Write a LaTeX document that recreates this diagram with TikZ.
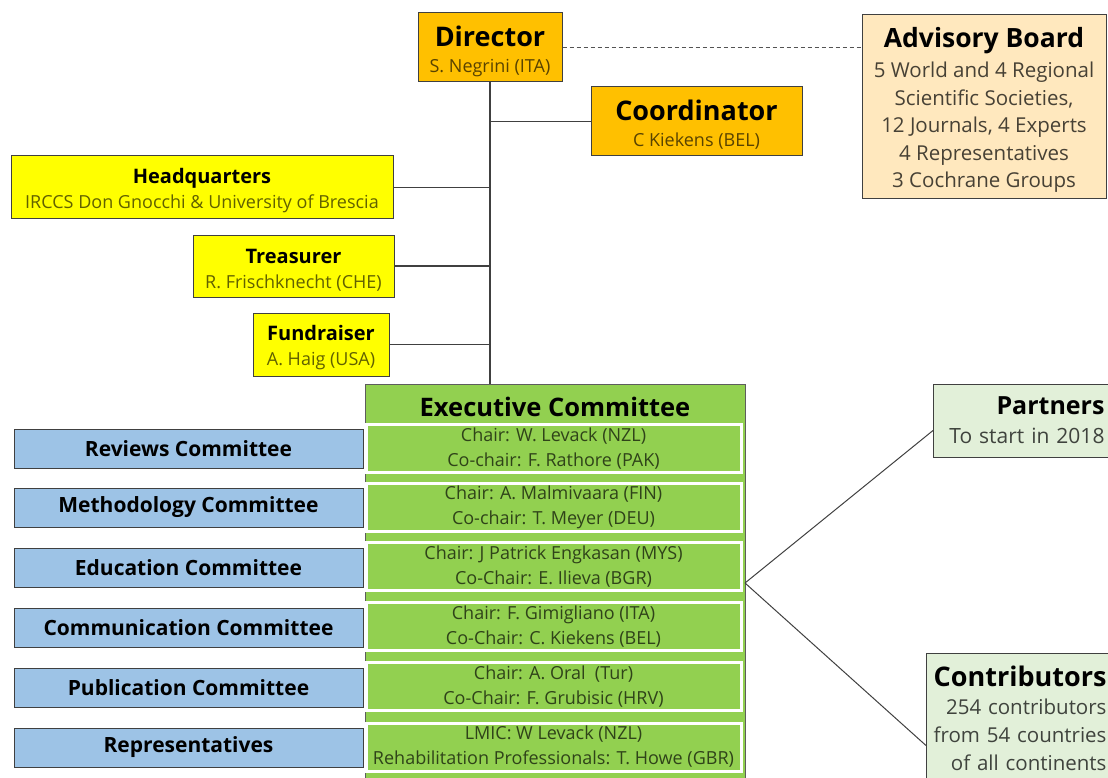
\documentclass[tikz,border=0pt]{standalone}
\usepackage{fontspec}
\setmainfont{Open Sans}
\usetikzlibrary{calc,positioning}
\definecolor{gold}{HTML}{FFC000}
\definecolor{lemon}{HTML}{FFFF00}
\definecolor{peach}{HTML}{FFE8BE}
\definecolor{leaf}{HTML}{92D050}
\definecolor{sky}{HTML}{9DC3E6}
\definecolor{mint}{HTML}{E2F0D9}
\definecolor{edge}{HTML}{404040}
\tikzset{
    box/.style={
           rectangle,
           draw=edge, line width=1pt,
           inner sep=0pt,
           align=center},
    lead/.style={
           box, fill=gold,
           font=\fontsize{18}{26}\selectfont},
    office/.style={
           box, fill=lemon,
           font=\fontsize{18}{25}\selectfont},
    cttee/.style={
           box, fill=sky,
           minimum width=349pt, minimum height=39pt,
           font=\fontsize{21}{24}\selectfont\bfseries},
    seat/.style={
           rectangle, fill=leaf,
           draw=white, line width=3pt,
           minimum width=375pt, minimum height=48pt,
           inner sep=0pt, align=center,
           text=black!68!leaf,
           font=\fontsize{18}{25}\selectfont},
    side/.style={
           box, fill=mint,
           inner xsep=7pt, align=right,
           font=\fontsize{21}{29}\selectfont},
    link/.style={
           draw=edge, line width=1.2pt}
}

\begin{document}
\begin{tikzpicture}[x=1pt, y=-1pt]
        \useasboundingbox (0,0) rectangle (1108,778);
        \clip (0,0) rectangle (1108,778);

        % top of the chart
        \node[lead, minimum width=144pt, minimum height=69pt] (director) at (490,47.5)
            {\rule{0pt}{28pt}{\fontsize{27}{26}\selectfont\bfseries Director}\\ \textcolor{black!65!gold}{S. Negrini (ITA)}};
        \node[lead, minimum width=211pt, minimum height=69pt] (coord) at (696.5,121.5)
            {\rule{0pt}{27pt}{\fontsize{27}{26}\selectfont\bfseries Coordinator}\\ \textcolor{black!65!gold}{C Kiekens (BEL)}};
        \node[box, fill=peach, minimum width=244pt, minimum height=184pt,
              font=\fontsize{20.5}{27.5}\selectfont] (advisory) at (984,107)
            {\rule{0pt}{25.5pt}{\fontsize{26.5}{28}\selectfont\bfseries Advisory Board}\\[3pt]
             \textcolor{black!72!peach}{5 World and 4 Regional}\\
             \textcolor{black!72!peach}{Scientific Societies,}\\
             \textcolor{black!72!peach}{12 Journals, 4 Experts}\\
             \textcolor{black!72!peach}{4 Representatives}\\
             \textcolor{black!72!peach}{3 Cochrane Groups}};

        \node[office, minimum width=382pt, minimum height=63pt] (hq) at (202,187.5)
            {\rule{0pt}{22pt}{\fontsize{20}{25}\selectfont\bfseries Headquarters}\\ \textcolor{black!62!lemon}{IRCCS Don Gnocchi \& University of Brescia}};
        \node[office, minimum width=201pt, minimum height=62pt] (treas) at (293.5,266)
            {\rule{0pt}{22pt}{\fontsize{20}{25}\selectfont\bfseries Treasurer}\\ \textcolor{black!62!lemon}{R. Frischknecht (CHE)}};
        \node[office, minimum width=136pt, minimum height=63pt] (fund) at (321,344.5)
            {\rule{0pt}{22pt}{\fontsize{20}{25}\selectfont\bfseries Fundraiser}\\ \textcolor{black!62!lemon}{A. Haig (USA)}};

        % executive committee
        \node[box, fill=leaf, draw=edge!85, minimum width=380pt, minimum height=416pt] (exec) at (555,592) {};
        \node[anchor=base, font=\fontsize{25.5}{26}\selectfont\bfseries] (exectitle) at (555,416) {Executive Committee};

        \node[seat] (s1) at (553.5,448.5) {Chair: W. Levack (NZL)\\ Co-chair: F. Rathore (PAK)};
        \node[seat] (s2) at (553.5,507)   {Chair: A. Malmivaara (FIN)\\ Co-chair: T. Meyer (DEU)};
        \node[seat] (s3) at (553.5,566.5) {Chair: J Patrick Engkasan (MYS)\\ Co-Chair: E. Ilieva (BGR)};
        \node[seat] (s4) at (553.5,626.5) {Chair: F. Gimigliano (ITA)\\ Co-Chair: C. Kiekens (BEL)};
        \node[seat] (s5) at (553.5,686.5) {Chair: A. Oral~ (Tur)\\ Co-Chair: F. Grubisic (HRV)};
        \node[seat] (s6) at (553.5,747)   {LMIC: W Levack (NZL)\\ Rehabilitation Professionals: T. Howe (GBR)};

        \node[cttee] (c1) at (188.5,448.5) {Reviews Committee};
        \node[cttee] (c2) at (188.5,507.5) {Methodology Committee};
        \node[cttee] (c3) at (188.5,567.5) {Education Committee};
        \node[cttee] (c4) at (188.5,627.5) {Communication Committee};
        \node[cttee] (c5) at (188.5,687.5) {Publication Committee};
        \node[cttee] (c6) at (188.5,747.5) {Representatives};

        % partners and contributors
        \node[side, anchor=west, minimum width=178pt, minimum height=73pt, text width=164pt] (partners) at (933,420.5)
            {{\fontsize{25}{29}\selectfont\bfseries Partners}\\ \textcolor{black!72!mint}{To start in 2018}};
        \node[side, anchor=north west, minimum width=187pt, minimum height=130pt, text width=173pt,
              font=\fontsize{20.5}{28}\selectfont] (contrib) at (926,653)
            {{\fontsize{27}{30}\selectfont\bfseries Contributors}\\ \textcolor{black!72!mint}{254 contributors}\\
             \textcolor{black!72!mint}{from 54 countries}\\ \textcolor{black!72!mint}{of all continents}};

        \coordinate (fork) at (745,583);

        \draw[link] (director.south) -- (director.south |- exec.north);
        \draw[link] (director.south |- coord.west) -- (coord.west);
        \draw[link] (hq.east) -- (hq.east -| director.south);
        \draw[link] (treas.east) -- (treas.east -| director.south);
        \draw[link] (fund.east) -- (fund.east -| director.south);
        \draw[link, dash pattern=on 4pt off 3pt, draw=edge!90] (director.east) -- (director.east -| advisory.west);
        \draw[link, line width=1pt] (fork) -- ([yshift=-10pt]partners.west);
        \draw[link, line width=1pt] (fork) -- ([yshift=-27pt]contrib.west);
    \end{tikzpicture}
\end{document}
